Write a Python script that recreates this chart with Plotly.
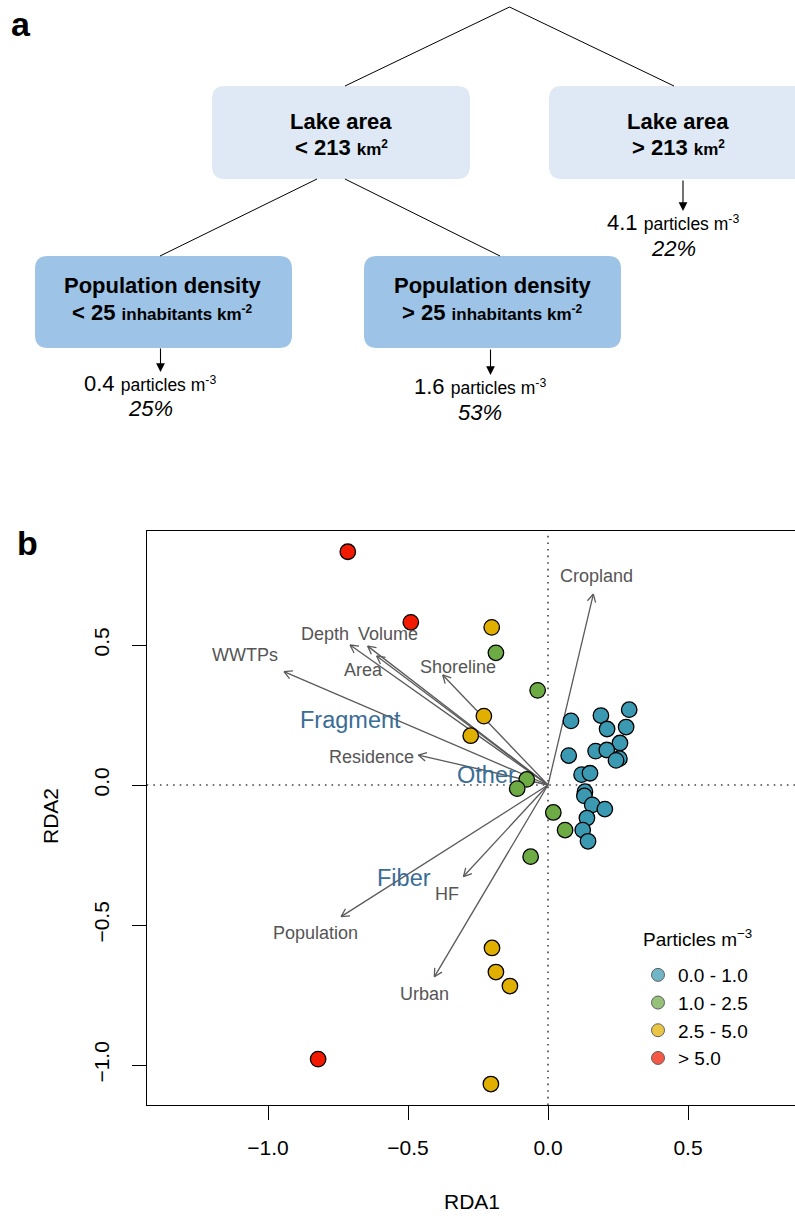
import numpy as np
import plotly.graph_objects as go

W, H = 795, 1216
FONT = "Liberation Sans, Arial, Helvetica, sans-serif"

# ---------------- Panel b data ----------------
classes = ["0.0 - 1.0", "1.0 - 2.5", "2.5 - 5.0", "> 5.0"]
point_colors = ["#3B9AB2", "#6DAB45", "#E1AF00", "#F21A00"]
legend_title = "Particles m<sup>\u22123</sup>"

blue_x = [0.082, 0.189, 0.211, 0.290, 0.279, 0.257, 0.074, 0.170, 0.210, 0.255,
          0.243, 0.120, 0.150, 0.132, 0.130, 0.158, 0.203, 0.139, 0.124, 0.143]
blue_y = [0.229, 0.248, 0.200, 0.269, 0.207, 0.150, 0.105, 0.121, 0.125, 0.094,
          0.088, 0.037, 0.042, -0.024, -0.039, -0.071, -0.086, -0.118, -0.161, -0.201]
green_x = [-0.186, -0.037, -0.076, -0.110, 0.019, 0.061, -0.062]
green_y = [0.472, 0.338, 0.020, -0.013, -0.098, -0.161, -0.256]
yellow_x = [-0.201, -0.229, -0.276, -0.200, -0.186, -0.136, -0.204]
yellow_y = [0.563, 0.246, 0.176, -0.582, -0.668, -0.718, -1.068]
red_x = [-0.715, -0.490, -0.821]
red_y = [0.833, 0.581, -0.979]

# environmental vectors (arrow tips) and their label positions
env_names = ["Cropland", "WWTPs", "Depth", "Volume", "Area", "Shoreline",
             "Residence", "Population", "HF", "Urban"]
env_x = [0.162, -0.943, -0.707, -0.644, -0.612, -0.376, -0.463, -0.739, -0.302, -0.406]
env_y = [0.682, 0.405, 0.500, 0.496, 0.461, 0.393, 0.107, -0.470, -0.327, -0.685]
env_lab_x = [0.174, -1.082, -0.796, -0.570, -0.660, -0.321, -0.630, -0.832, -0.360, -0.442]
env_lab_y = [0.746, 0.464, 0.539, 0.539, 0.411, 0.421, 0.099, -0.530, -0.389, -0.748]

# response (particle type) labels
sp_names = ["Fragment", "Other", "Fiber"]
sp_x = [-0.705, -0.219, -0.514]
sp_y = [0.232, 0.036, -0.333]

# x / y ticks
x_ticks = [-1.0, -0.5, 0.0, 0.5]
x_tick_text = ["\u22121.0", "\u22120.5", "0.0", "0.5"]
y_ticks = [-1.0, -0.5, 0.0, 0.5]
y_tick_text = ["\u22121.0", "\u22120.5", "0.0", "0.5"]

# ---------------- Panel a data ----------------
split1 = "213"
split2 = "25"
leaf_values = ["0.4", "1.6", "4.1"]
leaf_share = ["25%", "53%", "22%"]

fig = go.Figure()

# ---- arrows of the biplot ----
ax_lines_x, ax_lines_y = [], []
L = 0.032
ang = np.deg2rad(28)
for tx, ty in zip(env_x, env_y):
    ax_lines_x += [0, tx, None]
    ax_lines_y += [0, ty, None]
    n = np.hypot(tx, ty)
    ux, uy = tx / n, ty / n
    for s in (1, -1):
        c, sn = np.cos(s * ang), np.sin(s * ang)
        rx, ry = ux * c - uy * sn, ux * sn + uy * c
        ax_lines_x += [tx - L * rx, tx, None]
        ax_lines_y += [ty - L * ry, ty, None]
fig.add_trace(go.Scatter(x=ax_lines_x, y=ax_lines_y, mode="lines",
                         line=dict(color="#5a5a5a", width=1.3),
                         showlegend=False, hoverinfo="skip", xaxis="x", yaxis="y"))

# ---- points ----
groups = [(blue_x, blue_y), (green_x, green_y), (yellow_x, yellow_y), (red_x, red_y)]
for (gx, gy), col in zip(groups, point_colors):
    fig.add_trace(go.Scatter(x=gx, y=gy, mode="markers",
                             marker=dict(size=15.5, color=col,
                                         line=dict(color="black", width=1.3)),
                             showlegend=False, xaxis="x", yaxis="y"))

# legend-only dummy traces (lighter symbols like the reference legend)
for name, col in zip(classes, point_colors):
    fig.add_trace(go.Scatter(x=[None], y=[None], mode="markers", name=name,
                             legendgroup=name,
                             marker=dict(size=13, color=col, opacity=0.72,
                                         line=dict(color="#222", width=1)),
                             showlegend=True, xaxis="x", yaxis="y"))

annotations = []
for nm, lx, ly in zip(env_names, env_lab_x, env_lab_y):
    annotations.append(dict(x=lx, y=ly, xref="x", yref="y", text=nm, showarrow=False,
                            font=dict(family=FONT, size=18, color="#555555"),
                            xanchor="center", yanchor="middle"))
for nm, lx, ly in zip(sp_names, sp_x, sp_y):
    annotations.append(dict(x=lx, y=ly, xref="x", yref="y", text=nm, showarrow=False,
                            font=dict(family=FONT, size=23.5, color="#3A6D96"),
                            xanchor="center", yanchor="middle"))

# axis titles and panel letters (pixel coordinate overlay axes x2/y2)
def pix(text, x, y, size, bold=False, italic=False, angle=0, color="black", xanchor="center"):
    t = text
    if italic:
        t = "<i>" + t + "</i>"
    if bold:
        t = "<b>" + t + "</b>"
    annotations.append(dict(x=x, y=y, xref="x2", yref="y2", text=t, showarrow=False,
                            textangle=angle, font=dict(family=FONT, size=size, color=color),
                            xanchor=xanchor, yanchor="middle"))

pix("RDA1", 472, 1201, 21)
pix("RDA2", 50, 816, 21, angle=-90)
pix("a", 21, 24, 34, bold=True)
pix("b", 27, 543, 34, bold=True)
pix(legend_title, 641, 938, 19, xanchor="left")

# ---- panel a: tree ----
small = "font-size:17px"
pix("Lake area", 341, 121, 22, bold=True)
pix("&lt; " + split1 + " <span style='" + small + "'>km<sup>2</sup></span>", 341, 147, 22, bold=True)
pix("Lake area", 678, 121, 22, bold=True)
pix("&gt; " + split1 + " <span style='" + small + "'>km<sup>2</sup></span>", 678, 147, 22, bold=True)
pix("Population density", 163, 285, 22, bold=True)
pix("&lt; " + split2 + " <span style='" + small + "'>inhabitants km<sup>-2</sup></span>", 162, 312, 22, bold=True)
pix("Population density", 493, 285, 22, bold=True)
pix("&gt; " + split2 + " <span style='" + small + "'>inhabitants km<sup>-2</sup></span>", 492, 312, 22, bold=True)

leaf_pos = [(150, 383, 408), (480, 386, 412), (673, 222, 248)]
for v, s, (lx, y1, y2) in zip(leaf_values, leaf_share, leaf_pos):
    pix(v + " <span style='font-size:17.5px'>particles m<sup>-3</sup></span>", lx, y1, 22)
    pix(s, lx, y2, 22, italic=True)

# tree arrows
for (x, y0, y1) in [(160.5, 347, 372), (490.5, 348, 375), (683, 179, 211)]:
    annotations.append(dict(x=x, y=y1, ax=x, ay=y0, xref="x2", yref="y2",
                            axref="x2", ayref="y2", text="", showarrow=True,
                            arrowhead=2, arrowsize=1.6, arrowwidth=1.1,
                            arrowcolor="black", standoff=0))

shapes = []
def rrect(x0, y0, x1, y1, r):
    return (f"M{x0+r},{y0} L{x1-r},{y0} Q{x1},{y0} {x1},{y0+r} L{x1},{y1-r} "
            f"Q{x1},{y1} {x1-r},{y1} L{x0+r},{y1} Q{x0},{y1} {x0},{y1-r} "
            f"L{x0},{y0+r} Q{x0},{y0} {x0+r},{y0} Z")

light = "#DEE9F5"
dark = "#9DC3E6"
for (x0, y0, x1, y1, col) in [(212, 86, 470, 179, light), (549, 86, 812, 179, light),
                              (35, 256, 292, 348, dark), (364, 256, 621, 348, dark)]:
    shapes.append(dict(type="path", path=rrect(x0, y0, x1, y1, 13), xref="x2", yref="y2",
                       fillcolor=col, line=dict(width=0), layer="below"))

for (x0, y0, x1, y1) in [(509.5, 7, 345, 86), (509.5, 7, 674, 86),
                         (317, 179, 160, 256), (345, 179, 500, 256)]:
    shapes.append(dict(type="line", x0=x0, y0=y0, x1=x1, y1=y1, xref="x2", yref="y2",
                       line=dict(color="black", width=1)))

# dotted zero lines
shapes.append(dict(type="line", x0=0, x1=0, y0=0, y1=1, xref="x", yref="y domain",
                   line=dict(color="#444", width=1.6, dash="1.6px,5px"), layer="below"))
shapes.append(dict(type="line", x0=0, x1=1, y0=0, y1=0, xref="x domain", yref="y",
                   line=dict(color="#444", width=1.6, dash="1.6px,5px"), layer="below"))

# axes geometry
x_px0, y_px0, scale = 548.0, 785.0, 280.0
left_px, top_px, bottom_px = 146.7, 530.7, 1105.0
x_range = [(left_px - x_px0) / scale, (W - x_px0) / scale]
y_range = [(y_px0 - bottom_px) / scale, (y_px0 - top_px) / scale]

fig.update_layout(
    width=W, height=H,
    margin=dict(l=0, r=0, t=0, b=0),
    paper_bgcolor="white", plot_bgcolor="rgba(0,0,0,0)",
    font=dict(family=FONT, color="black"),
    xaxis=dict(domain=[left_px / W, 1], range=x_range, anchor="y",
               showgrid=False, zeroline=False, showline=True, mirror=True,
               linecolor="black", linewidth=1.3,
               ticks="outside", ticklen=14, tickwidth=1.2, tickcolor="black",
               tickvals=x_ticks, ticktext=x_tick_text,
               tickfont=dict(size=21, family=FONT), ticklabelstandoff=10),
    yaxis=dict(domain=[1 - bottom_px / H, 1 - top_px / H], range=y_range, anchor="x",
               showgrid=False, zeroline=False, showline=True, mirror=False,
               linecolor="black", linewidth=1.3,
               ticks="outside", ticklen=14, tickwidth=1.2, tickcolor="black",
               tickvals=y_ticks, ticktext=y_tick_text, tickangle=-90,
               tickfont=dict(size=21, family=FONT), ticklabelstandoff=14),
    xaxis2=dict(domain=[0, 1], range=[0, W], anchor="y2", visible=False, fixedrange=True),
    yaxis2=dict(domain=[0, 1], range=[H, 0], anchor="x2", visible=False, fixedrange=True),
    legend=dict(x=638 / W, y=1 - 956 / H, xanchor="left", yanchor="top",
                bgcolor="rgba(0,0,0,0)", font=dict(size=19, family=FONT),
                itemsizing="trace", tracegroupgap=0),
    annotations=annotations,
    shapes=shapes,
)

fig.write_html("out.html",
               config={"displayModeBar": False},
               post_script="document.body.style.margin='0';"
                           "document.documentElement.style.overflow='hidden';")
